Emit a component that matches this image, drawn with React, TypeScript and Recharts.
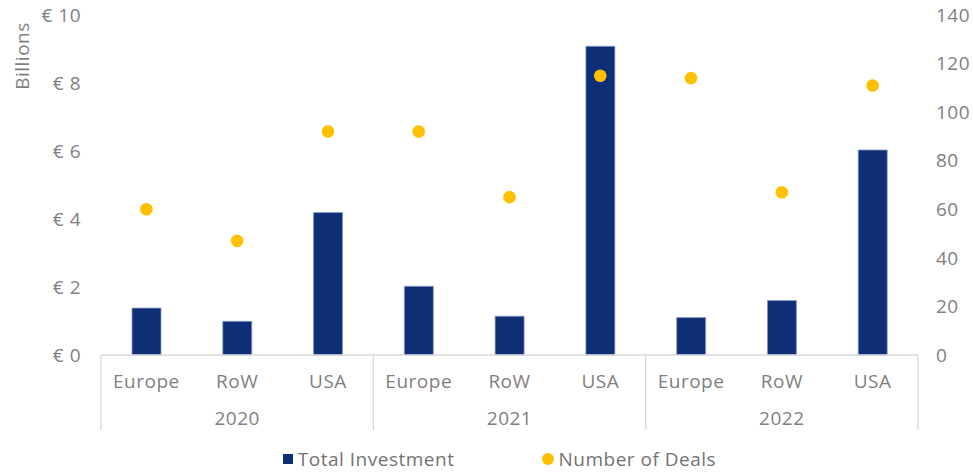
import React from 'react';
import { ComposedChart, Bar, Line, XAxis, YAxis, Legend } from 'recharts';

const regions = ['Europe', 'RoW', 'USA', 'Europe', 'RoW', 'USA', 'Europe', 'RoW', 'USA'];
const years = ['2020', '2020', '2020', '2021', '2021', '2021', '2022', '2022', '2022'];
const totalInvestment = [1.38, 0.99, 4.19, 2.02, 1.14, 9.08, 1.1, 1.6, 6.03];
const numberOfDeals = [60, 47, 92, 92, 65, 115, 114, 67, 111];
const leftTicks = [0, 2, 4, 6, 8, 10];
const rightTicks = [0, 20, 40, 60, 80, 100, 120, 140];

const data = regions.map((r, i) => ({
  key: `${years[i]}-${r}`,
  region: r,
  year: years[i],
  investment: totalInvestment[i],
  deals: numberOfDeals[i],
}));

const FONT = '"Open Sans", Lato, sans-serif';
const TEXT = '#7f7f7f';
const NAVY = '#0E2F76';
const GOLD = '#FFC000';
const GRID = '#d9d9d9';
const LS = 0.5;
const FS = 19;

const CatTick = (props: any) => {
  const { x, y, payload } = props;
  const i = payload.index;
  const half = payload.offset && payload.offset > 0 ? payload.offset : 45.4;
  const d = data[i];
  const els: any[] = [];
  els.push(
    <text key="r" x={x} y={y + 26} textAnchor="middle" dominantBaseline="central" fill={TEXT} fontSize={FS} fontFamily={FONT} letterSpacing={LS}>
      {d.region}
    </text>
  );
  if (i % 3 === 1) {
    els.push(
      <text key="y" x={x} y={y + 63} textAnchor="middle" dominantBaseline="central" fill={TEXT} fontSize={FS} fontFamily={FONT} letterSpacing={LS}>
        {d.year}
      </text>
    );
  }
  if (i % 3 === 0) {
    els.push(<line key="l" x1={x - half} x2={x - half} y1={y} y2={y + 75} stroke={GRID} strokeWidth={1.3} />);
  }
  if (i === data.length - 1) {
    els.push(<line key="rr" x1={x + half} x2={x + half} y1={y} y2={y + 75} stroke={GRID} strokeWidth={1.3} />);
  }
  return <g>{els}</g>;
};

const LegendContent = () => (
  <div style={{ display: 'flex', justifyContent: 'center', alignItems: 'center', height: 26, lineHeight: '26px', fontFamily: FONT, fontSize: FS, letterSpacing: LS, color: '#737373', transform: 'translateX(13px)' }}>
    <span style={{ display: 'inline-flex', alignItems: 'center', marginRight: 88 }}>
      <span style={{ width: 10, height: 10, background: NAVY, display: 'inline-block', marginRight: 5 }} />
      Total Investment
    </span>
    <span style={{ display: 'inline-flex', alignItems: 'center' }}>
      <span style={{ width: 12, height: 12, borderRadius: 6, background: GOLD, display: 'inline-block', marginRight: 4 }} />
      Number of Deals
    </span>
  </div>
);

const BillionsLabel = () => (
  <text x={22} y={56} transform="rotate(-90 22 56)" textAnchor="middle" dominantBaseline="central" fill={TEXT} fontSize={FS} fontFamily={FONT} letterSpacing={LS}>
    Billions
  </text>
);

export default function App() {
  return (
    <div style={{ position: 'absolute', left: 0, top: 0, width: 973, height: 472, background: '#fff' }}>
      <ComposedChart
        width={973}
        height={472}
        data={data}
        margin={{ top: 15, right: 0, left: 0, bottom: 37 }}
        barCategoryGap="34%"
      >
        <XAxis
          dataKey="key"
          xAxisId="x"
          interval={0}
          tickLine={false}
          tickSize={0}
          tickMargin={0}
          axisLine={{ stroke: GRID, strokeWidth: 1.3 }}
          tick={<CatTick />}
          height={80}
        />
        <YAxis
          yAxisId="left"
          domain={[0, 10]}
          ticks={leftTicks}
          width={101}
          axisLine={false}
          tickLine={false}
          tickSize={0}
          tickMargin={20}
          tick={{ fill: TEXT, fontSize: FS, fontFamily: FONT, letterSpacing: LS }}
          tickFormatter={(v: number) => `€ ${v}`}
          label={{ content: <BillionsLabel /> }}
        />
        <YAxis
          yAxisId="right"
          orientation="right"
          domain={[0, 140]}
          ticks={rightTicks}
          width={55}
          axisLine={false}
          tickLine={false}
          tickSize={0}
          tickMargin={18}
          tick={{ fill: TEXT, fontSize: FS, fontFamily: FONT, textAnchor: 'start', letterSpacing: LS }}
        />
        <Bar
          xAxisId="x"
          yAxisId="left"
          dataKey="investment"
          name="Total Investment"
          fill={NAVY}
          stroke="#8a9cc4"
          strokeWidth={0.8}
          barSize={29}
          isAnimationActive={false}
        />
        <Line
          xAxisId="x"
          yAxisId="right"
          dataKey="deals"
          name="Number of Deals"
          stroke="none"
          strokeWidth={0}
          dot={{ r: 6.3, fill: GOLD, stroke: 'none' }}
          activeDot={false}
          isAnimationActive={false}
        />
        <Legend
          layout="horizontal"
          verticalAlign="middle"
          align="center"
          content={<LegendContent />}
          wrapperStyle={{ position: 'absolute', top: 446, left: 0, width: 973, height: 26, overflow: 'visible' }}
        />
      </ComposedChart>
    </div>
  );
}
